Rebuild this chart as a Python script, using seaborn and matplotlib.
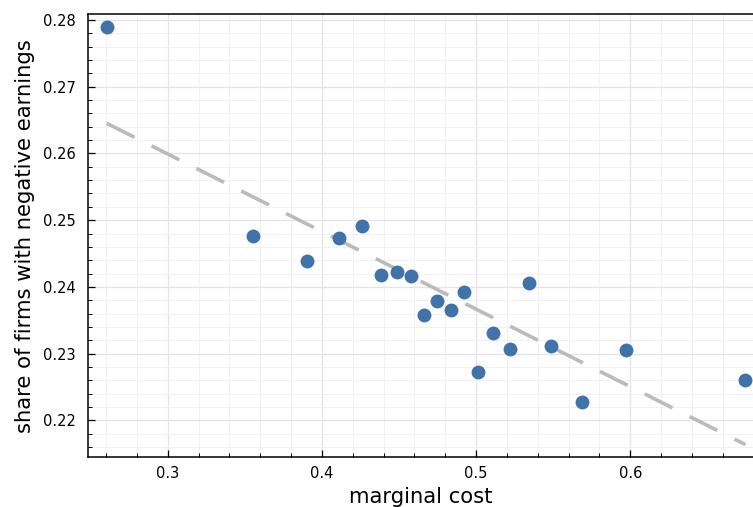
import numpy as np
import pandas as pd
import matplotlib
matplotlib.use("Agg")
import matplotlib.pyplot as plt
import seaborn as sns
from matplotlib.ticker import MultipleLocator

marginal_cost = [0.2604, 0.3552, 0.3903, 0.4110, 0.4260, 0.4383, 0.4487, 0.4578,
                 0.4662, 0.4747, 0.4838, 0.4922, 0.5013, 0.5110, 0.5221, 0.5344,
                 0.5487, 0.5688, 0.5974, 0.6747]
share_negative = [0.2790, 0.2476, 0.2439, 0.2473, 0.2491, 0.2418, 0.2423, 0.2417,
                  0.2358, 0.2379, 0.2366, 0.2392, 0.2272, 0.2331, 0.2307, 0.2406,
                  0.2311, 0.2227, 0.2305, 0.2261]

df = pd.DataFrame({"marginal cost": marginal_cost,
                   "share of firms with negative earnings": share_negative})

sns.set_theme(style="white")
plt.rcParams['font.family'] = ['DejaVu Sans']

fig = plt.figure(figsize=(7.53, 5.07), dpi=100)
ax = fig.add_axes([0.1165, 0.098, 0.8835, 0.8744])

sns.regplot(data=df, x="marginal cost", y="share of firms with negative earnings",
            ci=None, scatter=False, ax=ax,
            line_kws=dict(color="#bbbbbb", lw=2.6, linestyle=(0, (8.6, 5.3)), zorder=2))
sns.scatterplot(data=df, x="marginal cost", y="share of firms with negative earnings",
                color="#3f73aa", s=100, linewidth=0, ax=ax, zorder=3)

ax.set_xlim(0.2481, 0.6796)
ax.set_ylim(0.21446, 0.2809)
ax.xaxis.set_major_locator(MultipleLocator(0.1))
ax.xaxis.set_minor_locator(MultipleLocator(0.02))
ax.yaxis.set_major_locator(MultipleLocator(0.01))
ax.yaxis.set_minor_locator(MultipleLocator(0.002))
ax.xaxis.set_major_formatter(matplotlib.ticker.FuncFormatter(lambda v, p: f"{v:.1f}"))
ax.yaxis.set_major_formatter(matplotlib.ticker.FuncFormatter(lambda v, p: f"{v:.2f}"))

ax.grid(True, which="major", color="#e3e3e9", lw=0.9)
ax.grid(True, which="minor", color="#f1f1f4", lw=0.7)
ax.set_axisbelow(True)

for s in ["left", "bottom", "top"]:
    ax.spines[s].set_color("black")
    ax.spines[s].set_linewidth(1.1)
ax.spines["right"].set_visible(False)

ax.tick_params(which="major", direction="in", length=5, width=0.9, color="black",
               labelsize=10.5, labelcolor="black", left=True, bottom=True)
ax.tick_params(axis="y", which="major", pad=8.5)
ax.tick_params(axis="x", which="major", pad=6.5)
ax.tick_params(which="minor", direction="in", length=3, width=0.7, color="black",
               left=True, bottom=True)

ax.set_xlabel("marginal cost", fontsize=15.2, color="black", labelpad=4)
ax.set_ylabel("share of firms with negative earnings", fontsize=15.2, color="black", labelpad=6)

fig.savefig("out.png", dpi=100)
